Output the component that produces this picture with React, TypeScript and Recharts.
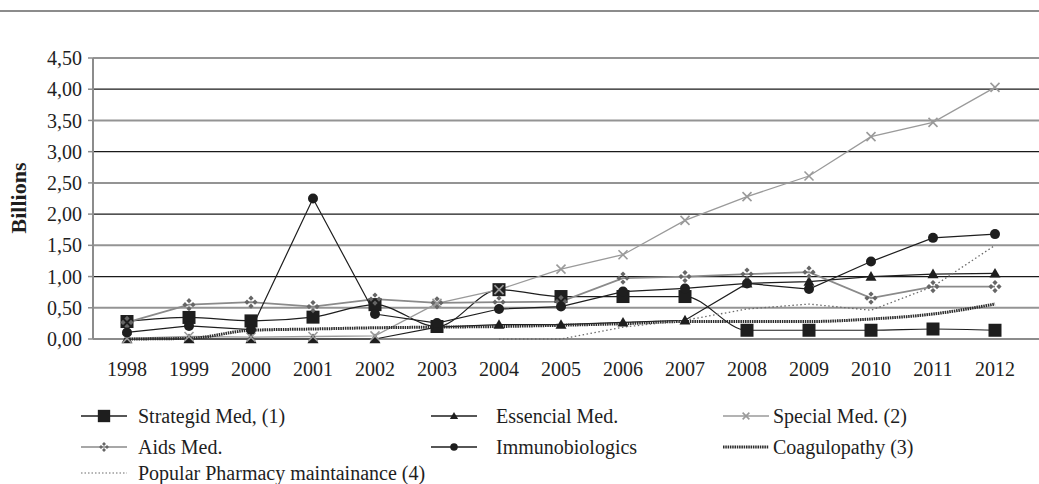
import React from 'react';
import { LineChart, Line, XAxis, YAxis, CartesianGrid } from 'recharts';

const years = ['1998', '1999', '2000', '2001', '2002', '2003', '2004', '2005', '2006', '2007', '2008', '2009', '2010', '2011', '2012'];
const strategidMed = [0.28, 0.345, 0.29, 0.35, 0.55, 0.2, 0.79, 0.68, 0.68, 0.68, 0.14, 0.14, 0.14, 0.16, 0.14];
const essencialMed = [0, 0, 0, 0, 0, 0.19, 0.23, 0.23, 0.265, 0.3, 0.89, 0.92, 1.0, 1.04, 1.05];
const specialMed = [0.01, 0.04, 0.03, 0.04, 0.05, 0.57, 0.79, 1.12, 1.35, 1.9, 2.28, 2.61, 3.24, 3.47, 4.03];
const aidsMed = [0.265, 0.55, 0.59, 0.52, 0.64, 0.58, 0.59, 0.6, 0.975, 1.0, 1.04, 1.07, 0.655, 0.84, 0.84];
const immunobiologics = [0.105, 0.21, 0.15, 2.25, 0.4, 0.255, 0.48, 0.52, 0.76, 0.81, 0.89, 0.8, 1.24, 1.62, 1.68];
const coagulopathy = [0, 0.01, 0.14, 0.16, 0.18, 0.19, 0.2, 0.22, 0.245, 0.28, 0.28, 0.28, 0.32, 0.4, 0.56];
const popularPharmacy: (number | null)[] = [null, null, null, null, null, null, 0, 0, 0.19, 0.3, 0.48, 0.56, 0.46, 0.84, 1.5];

const yTicks = [0, 0.5, 1, 1.5, 2, 2.5, 3, 3.5, 4, 4.5];
const grayGridValues = [0.5, 1.5, 2.5, 3.5, 4.5];
const blackGridValues = [0, 1, 2, 3, 4];

const seriesNames = {
  strategid: 'Strategid Med, (1)',
  essencial: 'Essencial Med.',
  special: 'Special Med. (2)',
  aids: 'Aids Med.',
  immuno: 'Immunobiologics',
  coag: 'Coagulopathy (3)',
  popular: 'Popular Pharmacy maintainance (4)',
};

const data = years.map((year, i) => ({
  year,
  strategid: strategidMed[i],
  essencial: essencialMed[i],
  special: specialMed[i],
  aids: aidsMed[i],
  immuno: immunobiologics[i],
  coag: coagulopathy[i],
  popular: popularPharmacy[i],
}));

const FONT = '"Liberation Serif", "Times New Roman", serif';
const DARK = '#1e1e1e';

type Shape = 'square' | 'triangle' | 'x' | 'aids' | 'circle';

const markerEl = (shape: Shape, cx: number, cy: number, key?: string, scale = 1) => {
  switch (shape) {
    case 'square': {
      const s = 13 * scale;
      return <rect key={key} x={cx - s / 2} y={cy - s / 2} width={s} height={s} fill={DARK} />;
    }
    case 'triangle': {
      const h = 5.5 * scale;
      return (
        <polygon
          key={key}
          points={`${cx},${cy - h} ${cx + h},${cy + h * 0.75} ${cx - h},${cy + h * 0.75}`}
          fill={DARK}
        />
      );
    }
    case 'x': {
      const h = 4.5 * scale;
      return (
        <g key={key} stroke="#9a9a9a" strokeWidth={1.6}>
          <line x1={cx - h} y1={cy - h} x2={cx + h} y2={cy + h} />
          <line x1={cx - h} y1={cy + h} x2={cx + h} y2={cy - h} />
        </g>
      );
    }
    case 'aids': {
      const d = 4 * scale;
      const r = 2.6 * scale;
      const offs = [
        [0, -d],
        [d, 0],
        [0, d],
        [-d, 0],
      ];
      return (
        <g key={key} fill="#666666">
          {offs.map(([ox, oy], j) => (
            <polygon
              key={j}
              points={`${cx + ox},${cy + oy - r} ${cx + ox + r},${cy + oy} ${cx + ox},${cy + oy + r} ${cx + ox - r},${cy + oy}`}
            />
          ))}
        </g>
      );
    }
    case 'circle':
    default:
      return <circle key={key} cx={cx} cy={cy} r={5 * scale} fill={DARK} />;
  }
};

const makeDot = (shape: Shape) => (p: any) => {
  const { cx, cy, index, value } = p;
  if (cx == null || cy == null || value == null) return <g key={`e-${index}`} />;
  return markerEl(shape, cx, cy, `${shape}-${index}`);
};

type LegendItem = {
  name: string;
  stroke: string;
  width: number;
  dash?: string;
  shape?: Shape;
  left: number;
  textLeft: number;
  top: number;
};

const legendItems: LegendItem[] = [
  { name: seriesNames.strategid, stroke: DARK, width: 1.3, shape: 'square', left: 81, textLeft: 138, top: 416 },
  { name: seriesNames.essencial, stroke: DARK, width: 1.3, shape: 'triangle', left: 431, textLeft: 496, top: 416 },
  { name: seriesNames.special, stroke: '#9a9a9a', width: 1.3, shape: 'x', left: 723, textLeft: 773, top: 416 },
  { name: seriesNames.aids, stroke: '#8a8a8a', width: 1.6, shape: 'aids', left: 81, textLeft: 138, top: 447 },
  { name: seriesNames.immuno, stroke: DARK, width: 1.3, shape: 'circle', left: 431, textLeft: 496, top: 447 },
  { name: seriesNames.coag, stroke: '#2b2b2b', width: 3, dash: '1.5 0.8', left: 723, textLeft: 773, top: 447 },
  { name: seriesNames.popular, stroke: '#6a6a6a', width: 1.2, dash: '1.5 2', left: 81, textLeft: 138, top: 473 },
];

const LegendIcon = ({ item }: { item: LegendItem }) => (
  <svg width={46} height={16} style={{ position: 'absolute', left: item.left, top: item.top - 8 }}>
    <line x1={0} y1={8} x2={46} y2={8} stroke={item.stroke} strokeWidth={item.width} strokeDasharray={item.dash} />
    {item.shape ? markerEl(item.shape, 23, 8, 'm', item.shape === 'square' ? 0.95 : 0.75) : null}
  </svg>
);

const fmt = (v: number) => v.toFixed(2).replace('.', ',');

export default function App() {
  return (
    <div
      style={{
        position: 'absolute',
        left: 0,
        top: 0,
        width: 1039,
        height: 484,
        background: '#ffffff',
        fontFamily: FONT,
        overflow: 'hidden',
      }}
    >
      <div style={{ position: 'absolute', left: 0, top: 10, width: 1039, height: 0, borderTop: '2px solid #8c8c8c' }} />
      <div
        style={{
          position: 'absolute',
          left: 19,
          top: 198,
          transform: 'translate(-50%, -50%) rotate(-90deg)',
          fontWeight: 'bold',
          fontSize: 22,
          color: '#1e1e1e',
          whiteSpace: 'nowrap',
        }}
      >
        Billions
      </div>
      <div style={{ position: 'absolute', left: 0, top: 0 }}>
        <LineChart width={1039} height={484} data={data} margin={{ top: 58, right: 0, bottom: 115, left: 0 }}>
          <CartesianGrid horizontalValues={grayGridValues} vertical={false} stroke="#949494" strokeWidth={2} />
          <CartesianGrid horizontalValues={blackGridValues} vertical={false} stroke="#1a1a1a" strokeWidth={1.2} />
          <XAxis
            dataKey="year"
            type="category"
            padding={{ left: 34, right: 44 }}
            axisLine={false}
            tickLine={false}
            tickSize={0}
            tickMargin={23}
            height={30}
            interval={0}
            tick={{ fill: '#1e1e1e', fontSize: 20, fontFamily: FONT }}
          />
          <YAxis
            type="number"
            domain={[0, 4.5]}
            ticks={yTicks}
            tickFormatter={fmt}
            width={93}
            axisLine={{ stroke: '#8c8c8c', strokeWidth: 2 }}
            tickLine={{ stroke: '#8c8c8c', strokeWidth: 1.5 }}
            tickSize={5}
            tickMargin={6}
            interval={0}
            tick={{ fill: '#1e1e1e', fontSize: 20, fontFamily: FONT }}
          />
          <Line
            dataKey="strategid"
            name={seriesNames.strategid}
            type="monotone"
            stroke={DARK}
            strokeWidth={1.2}
            dot={makeDot('square')}
            activeDot={false}
            isAnimationActive={false}
          />
          <Line
            dataKey="essencial"
            name={seriesNames.essencial}
            type="linear"
            stroke={DARK}
            strokeWidth={1.2}
            dot={makeDot('triangle')}
            activeDot={false}
            isAnimationActive={false}
          />
          <Line
            dataKey="special"
            name={seriesNames.special}
            type="linear"
            stroke="#9a9a9a"
            strokeWidth={1.3}
            dot={makeDot('x')}
            activeDot={false}
            isAnimationActive={false}
          />
          <Line
            dataKey="aids"
            name={seriesNames.aids}
            type="linear"
            stroke="#8a8a8a"
            strokeWidth={1.8}
            dot={makeDot('aids')}
            activeDot={false}
            isAnimationActive={false}
          />
          <Line
            dataKey="immuno"
            name={seriesNames.immuno}
            type="linear"
            stroke={DARK}
            strokeWidth={1.2}
            dot={makeDot('circle')}
            activeDot={false}
            isAnimationActive={false}
          />
          <Line
            dataKey="coag"
            name={seriesNames.coag}
            type="monotone"
            stroke="#2b2b2b"
            strokeWidth={3}
            strokeDasharray="1.5 0.8"
            dot={false}
            activeDot={false}
            isAnimationActive={false}
          />
          <Line
            dataKey="popular"
            name={seriesNames.popular}
            type="linear"
            stroke="#6a6a6a"
            strokeWidth={1.3}
            strokeDasharray="1.5 2.5"
            dot={false}
            activeDot={false}
            connectNulls={false}
            isAnimationActive={false}
          />
        </LineChart>
      </div>
      {legendItems.map((item) => (
        <React.Fragment key={item.name}>
          <LegendIcon item={item} />
          <div
            style={{
              position: 'absolute',
              left: item.textLeft,
              top: item.top,
              transform: 'translateY(-50%)',
              fontSize: 20,
              lineHeight: '20px',
              color: '#1e1e1e',
              whiteSpace: 'nowrap',
            }}
          >
            {item.name}
          </div>
        </React.Fragment>
      ))}
    </div>
  );
}
